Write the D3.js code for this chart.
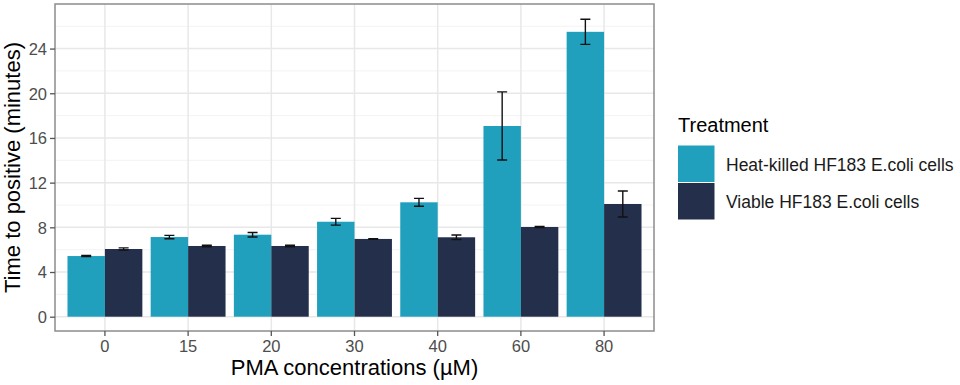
<!DOCTYPE html>
<html>
<head>
<meta charset="utf-8">
<script src="https://cdn.jsdelivr.net/npm/d3@7"></script>
<style>
  body { margin: 0; background: #fff; }
  text { font-family: "Liberation Sans", Arial, sans-serif; }
</style>
</head>
<body>
<svg width="960" height="385"></svg>
<script>
'use strict';

// PMA concentrations (µM)
const concentrations = ['0', '15', '20', '30', '40', '60', '80'];

const treatments = ['Heat-killed HF183 E.coli cells', 'Viable HF183 E.coli cells'];

// mean time to positive (minutes) and error
const heat_killed = [5.43, 7.13, 7.34, 8.5, 10.24, 17.07, 25.5];
const heat_killed_err = [0.05, 0.15, 0.2, 0.3, 0.35, 3.05, 1.12];
const viable = [6.06, 6.33, 6.33, 6.96, 7.11, 8.03, 10.09];
const viable_err = [0.1, 0.07, 0.07, 0.03, 0.2, 0.05, 1.16];

const y_ticks = [0, 4, 8, 12, 16, 20, 24];

const treatment_colors = {
  'Heat-killed HF183 E.coli cells': '#21a0bd',
  'Viable HF183 E.coli cells': '#24304b'
};

const svg = d3.select('svg');

const panel = { left: 55, right: 654, top: 4, bottom: 331 };

const x = d3.scaleBand()
  .domain(concentrations)
  .range([panel.left, panel.right])
  .paddingInner(0)
  .paddingOuter(0.1);

const x_inner = d3.scaleBand()
  .domain(treatments)
  .range([x.bandwidth() * 0.05, x.bandwidth() * 0.95]);

const y = d3.scaleLinear()
  .domain([-1.28, 27.99])
  .range([panel.bottom, panel.top]);

// rows for drawing
const rows = [];
concentrations.forEach((c, i) => {
  rows.push({ conc: c, treatment: treatments[0], value: heat_killed[i], err: heat_killed_err[i] });
  rows.push({ conc: c, treatment: treatments[1], value: viable[i], err: viable_err[i] });
});

// grid
const grid = svg.append('g');
const minor_ticks = d3.range(-2, 28, 4).filter(v => v > y.domain()[0]);
grid.selectAll('line.minor').data(minor_ticks).join('line')
  .attr('x1', panel.left).attr('x2', panel.right)
  .attr('y1', d => y(d)).attr('y2', d => y(d))
  .attr('stroke', '#f3f3f3').attr('stroke-width', 1);
grid.selectAll('line.major-y').data(y_ticks).join('line')
  .attr('x1', panel.left).attr('x2', panel.right)
  .attr('y1', d => y(d)).attr('y2', d => y(d))
  .attr('stroke', '#e8e8e8').attr('stroke-width', 1.5);
grid.selectAll('line.major-x').data(concentrations).join('line')
  .attr('x1', d => x(d) + x.bandwidth() / 2).attr('x2', d => x(d) + x.bandwidth() / 2)
  .attr('y1', panel.top).attr('y2', panel.bottom)
  .attr('stroke', '#e8e8e8').attr('stroke-width', 1.5);

// bars
svg.append('g').selectAll('rect').data(rows).join('rect')
  .attr('x', d => x(d.conc) + x_inner(d.treatment))
  .attr('width', x_inner.bandwidth())
  .attr('y', d => y(d.value))
  .attr('height', d => y(0) - y(d.value))
  .attr('fill', d => treatment_colors[d.treatment]);

// error bars
const cap = 5;
const eb = svg.append('g').attr('stroke', '#111').attr('stroke-width', 1.4).attr('fill', 'none');
eb.selectAll('path').data(rows).join('path')
  .attr('d', d => {
    const cx = x(d.conc) + x_inner(d.treatment) + x_inner.bandwidth() / 2;
    const y1 = y(d.value + d.err), y2 = y(d.value - d.err);
    return `M${cx - cap},${y1}H${cx + cap}M${cx},${y1}V${y2}M${cx - cap},${y2}H${cx + cap}`;
  });

// panel border
svg.append('rect')
  .attr('x', panel.left).attr('y', panel.top)
  .attr('width', panel.right - panel.left).attr('height', panel.bottom - panel.top)
  .attr('fill', 'none').attr('stroke', '#8c8c8c').attr('stroke-width', 1.5);

// axes
const y_axis = svg.append('g')
  .attr('transform', `translate(${panel.left},0)`)
  .call(d3.axisLeft(y).tickValues(y_ticks).tickSize(5).tickPadding(3));
const x_axis = svg.append('g')
  .attr('transform', `translate(0,${panel.bottom})`)
  .call(d3.axisBottom(x).tickSize(5).tickPadding(4));

[y_axis, x_axis].forEach(a => {
  a.select('.domain').remove();
  a.selectAll('.tick line').attr('stroke', '#555').attr('stroke-width', 1.3);
  a.selectAll('.tick text')
    .attr('fill', '#4d4d4d')
    .style('font-size', '16.5px')
    .style('font-family', '"Liberation Sans", Arial, sans-serif');
});
y_axis.selectAll('.tick text').attr('dy', '0.36em');

// axis titles
svg.append('text')
  .attr('x', (panel.left + panel.right) / 2)
  .attr('y', 375)
  .attr('text-anchor', 'middle')
  .style('font-size', '22px')
  .text('PMA concentrations (µM)');

svg.append('text')
  .attr('transform', `translate(20,${(panel.top + panel.bottom) / 2}) rotate(-90)`)
  .attr('text-anchor', 'middle')
  .style('font-size', '22px')
  .text('Time to positive (minutes)');

// legend
const legend = svg.append('g').attr('transform', 'translate(678,0)');
legend.append('text')
  .attr('x', 0).attr('y', 132)
  .style('font-size', '20px')
  .text('Treatment');

const key_size = 36.5;
const key = legend.selectAll('g.key').data(treatments).join('g')
  .attr('transform', (d, i) => `translate(0,${145.5 + i * (key_size + 1)})`);
key.append('rect')
  .attr('width', key_size).attr('height', key_size)
  .attr('fill', d => treatment_colors[d]);
key.append('text')
  .attr('x', 48).attr('y', key_size / 2 + 7)
  .style('font-size', '17.5px')
  .attr('fill', '#1a1a1a')
  .text(d => d);
</script>
</body>
</html>
